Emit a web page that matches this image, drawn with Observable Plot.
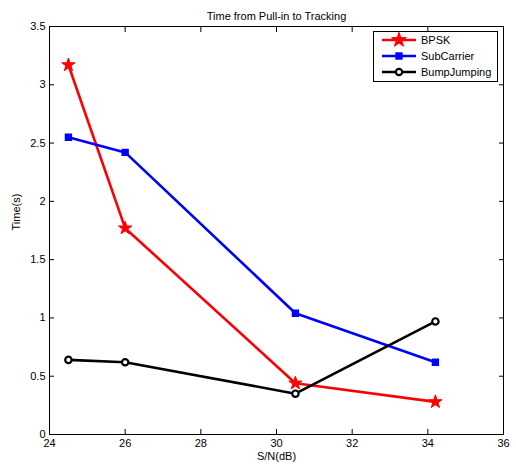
<!DOCTYPE html>
<html><head><meta charset="utf-8">
<script src="https://cdn.jsdelivr.net/npm/d3@7"></script>
<script src="https://cdn.jsdelivr.net/npm/@observablehq/plot@0.6"></script>
<style>body{margin:0;background:#fff}</style>
</head><body><div id="chart"></div>
<script>
const snr = [24.5, 26, 30.5, 34.2];
const bpsk = [3.17, 1.77, 0.44, 0.28];
const subCarrier = [2.55, 2.42, 1.04, 0.62];
const bumpJumping = [0.64, 0.62, 0.35, 0.97];
const seriesNames = ["BPSK", "SubCarrier", "BumpJumping"];
const seriesColors = ["#ff0000", "#0000ff", "#000000"];
const seriesSymbols = ["star", "square", "circle"];
const xTicks = [24, 26, 28, 30, 32, 34, 36];
const yTicks = [0, 0.5, 1, 1.5, 2, 2.5, 3, 3.5];
const title = "Time from Pull-in to Tracking";
const xLabel = "S/N(dB)";
const yLabel = "Time(s)";

const rows = [];
[bpsk, subCarrier, bumpJumping].forEach((vals, i) =>
  vals.forEach((v, j) => rows.push({series: seriesNames[i], x: snr[j], y: v})));
const bySeries = name => rows.filter(d => d.series === name);

const font = "'Liberation Sans', Arial, sans-serif";
const blank = () => "";
const tk = 5;
const chart = Plot.plot({
  width: 516,
  height: 468,
  marginLeft: 49,
  marginRight: 13,
  marginTop: 26,
  marginBottom: 34,
  style: {fontFamily: font, fontSize: "11px", background: "#fff", color: "#000"},
  x: {domain: [24, 36]},
  y: {domain: [0, 3.5]},
  color: {domain: seriesNames, range: seriesColors},
  marks: [
    // inward tick marks on all four sides
    Plot.axisX(xTicks, {anchor: "bottom", tickSize: tk, dy: -tk, tickFormat: blank, label: null}),
    Plot.axisX(xTicks, {anchor: "top", tickSize: tk, dy: tk, tickFormat: blank, label: null}),
    Plot.axisY(yTicks, {anchor: "left", tickSize: tk, dx: tk, tickFormat: blank, label: null}),
    Plot.axisY(yTicks, {anchor: "right", tickSize: tk, dx: -tk, tickFormat: blank, label: null}),
    // tick labels
    Plot.axisX(xTicks, {anchor: "bottom", tickSize: 0, tickPadding: 5, tickFormat: d => String(d), label: null, fontSize: 11}),
    Plot.axisY(yTicks, {anchor: "left", tickSize: 0, tickPadding: 4, tickFormat: d => String(d), label: null, fontSize: 11}),
    Plot.frame({stroke: "#000", strokeWidth: 1}),
    Plot.line(rows, {x: "x", y: "y", z: "series", stroke: "series", strokeWidth: 2.6}),
    Plot.dot(bySeries("BPSK"), {x: "x", y: "y", symbol: "star", r: 4.2, fill: seriesColors[0], stroke: seriesColors[0], strokeWidth: 1}),
    Plot.dot(bySeries("SubCarrier"), {x: "x", y: "y", symbol: "square", r: 3.3, fill: seriesColors[1], stroke: seriesColors[1], strokeWidth: 1.5}),
    Plot.dot(bySeries("BumpJumping"), {x: "x", y: "y", symbol: "circle", r: 3.2, fill: "#fff", stroke: seriesColors[2], strokeWidth: 2.2}),
    Plot.text([title], {frameAnchor: "top", dy: -14, fontSize: 11, fill: "#000"}),
    Plot.text([xLabel], {frameAnchor: "bottom", dy: 25, fontSize: 11, fill: "#000"}),
    Plot.text([yLabel], {frameAnchor: "left", dx: -33, rotate: -90, fontSize: 11, fill: "#000"})
  ]
});
document.getElementById("chart").appendChild(chart);

// legend
const svg = d3.select(chart);
const lg = svg.append("g").attr("font-family", font).attr("font-size", 11).attr("text-anchor", "start");
const lx = 373, ly = 31, lw = 124, lh = 50;
lg.append("rect").attr("x", lx + 0.5).attr("y", ly + 0.5).attr("width", lw).attr("height", lh)
  .attr("fill", "#fff").attr("stroke", "#000").attr("stroke-width", 1);
const symMap = {star: d3.symbolStar, square: d3.symbolSquare, circle: d3.symbolCircle};
const symSize = {star: Math.PI * 4.6 * 4.6, square: Math.PI * 3.3 * 3.3, circle: Math.PI * 3.2 * 3.2};
seriesNames.forEach((name, i) => {
  const y = ly + 9 + i * 16;
  lg.append("line").attr("x1", lx + 9).attr("x2", lx + 43).attr("y1", y).attr("y2", y)
    .attr("stroke", seriesColors[i]).attr("stroke-width", 2.6);
  const s = seriesSymbols[i];
  lg.append("path").attr("d", d3.symbol(symMap[s], symSize[s])())
    .attr("transform", `translate(${lx + 26},${y})`)
    .attr("fill", s === "circle" ? "#fff" : seriesColors[i])
    .attr("stroke", seriesColors[i])
    .attr("stroke-width", s === "circle" ? 2.2 : (s === "square" ? 1.5 : 1));
  lg.append("text").attr("x", lx + 48).attr("y", y).attr("dy", "0.35em")
    .attr("text-anchor", "start").attr("fill", "#000").text(name);
});
</script>
</body></html>
